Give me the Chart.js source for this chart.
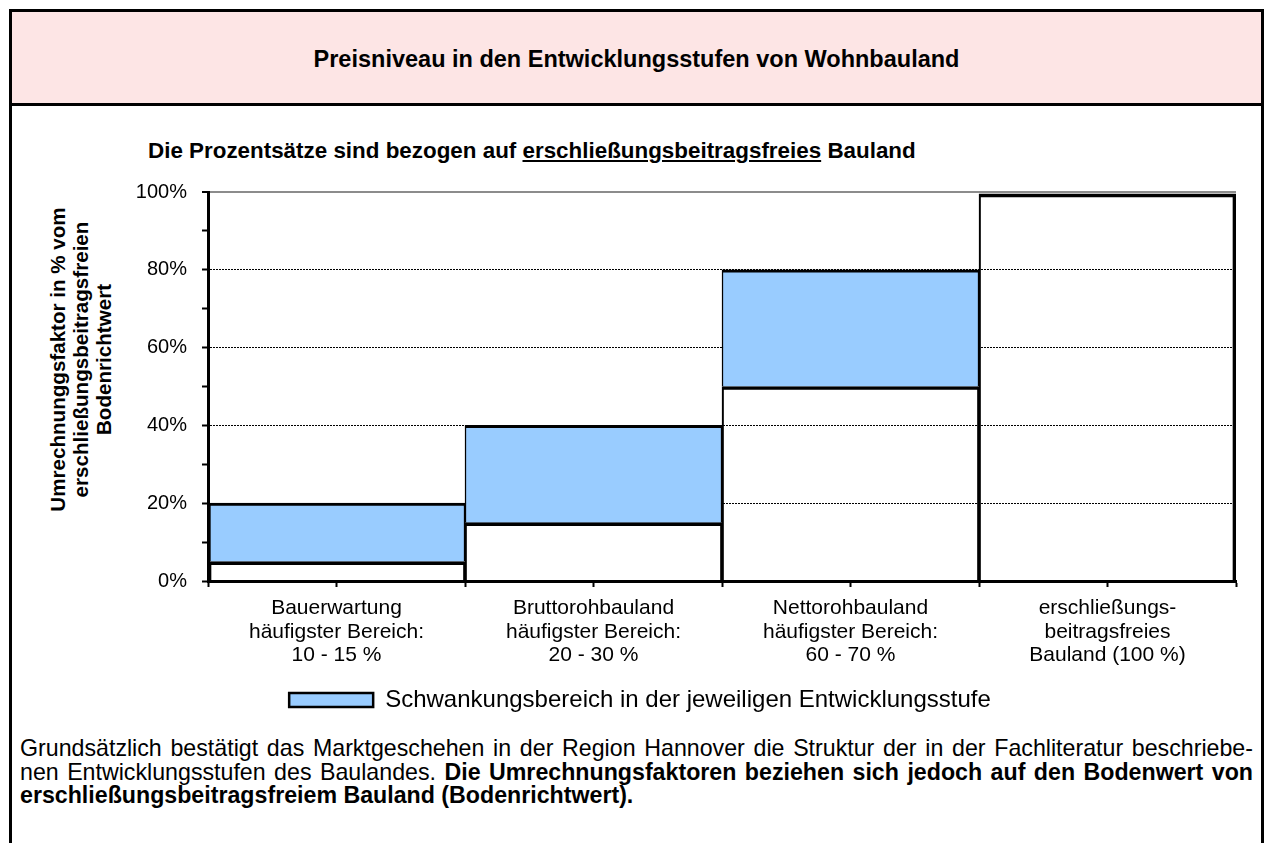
<!DOCTYPE html>
<html lang="de">
<head>
<meta charset="utf-8">
<title>Preisniveau in den Entwicklungsstufen von Wohnbauland</title>
<script src="https://cdn.jsdelivr.net/npm/chart.js@4"></script>
<style>
  html, body { margin: 0; padding: 0; background: #fff; }
  body { width: 1273px; height: 843px; overflow: hidden; position: relative;
         font-family: "Liberation Sans", Arial, sans-serif; color: #000; }
  .rahmen { position: absolute; left: 9px; top: 9px; width: 1255px; height: 900px;
            border: 3px solid #000; box-sizing: border-box; }
  .kopf { position: absolute; left: 12px; top: 12px; width: 1249px; height: 91px;
          background: #fde5e5; border-bottom: 3px solid #000; }
  .titel { position: absolute; left: 12px; width: 1249px; top: 48px; text-align: center;
           font-weight: bold; font-size: 23.5px; line-height: 23.5px; white-space: nowrap; }
  .untertitel { position: absolute; left: 148px; top: 140px; font-weight: bold;
                font-size: 22.4px; line-height: 22.4px; white-space: nowrap; }
  .ytitel { position: absolute; left: -90px; top: 325px; width: 340px; height: 69px;
            font-weight: bold; font-size: 20.6px; line-height: 23px; text-align: center;
            transform: rotate(-90deg); white-space: nowrap; }
  .grafik { position: absolute; left: 44px; top: 170px; width: 1229px; height: 552px; }
  .text { position: absolute; left: 20px; top: 737px; width: 1233px;
          font-size: 23.2px; line-height: 23.5px; }
  .text div { white-space: nowrap; }
  .text .block { text-align: justify; text-align-last: justify; white-space: normal; }
</style>
</head>
<body>
<div class="rahmen"></div>
<div class="kopf"></div>
<div class="titel">Preisniveau in den Entwicklungsstufen von Wohnbauland</div>
<div class="untertitel">Die Prozentsätze sind bezogen auf <u>erschließungsbeitragsfreies</u> Bauland</div>
<div class="ytitel">Umrechnunggsfaktor in % vom<br>erschließungsbeitragsfreien<br>Bodenrichtwert</div>
<div class="grafik"><canvas id="stufen"></canvas></div>
<div class="text">
  <div class="block">Grundsätzlich bestätigt das Marktgeschehen in der Region Hannover die Struktur der in der Fachliteratur beschriebe-</div>
  <div class="block">nen Entwicklungsstufen des Baulandes. <b>Die Umrechnungsfaktoren beziehen sich jedoch auf den Bodenwert von</b></div>
  <div><b>erschließungsbeitragsfreiem Bauland (Bodenrichtwert).</b></div>
</div>
<script>
// Daten
const kategorien = [
    ['Bauerwartung', 'häufigster Bereich:', '10 - 15 %'],
    ['Bruttorohbauland', 'häufigster Bereich:', '20 - 30 %'],
    ['Nettorohbauland', 'häufigster Bereich:', '60 - 70 %'],
    ['erschließungs-', 'beitragsfreies', 'Bauland (100 %)']
];
const untergrenze = [5, 15, 50, 99.5];   // unterer Teil der Säule (ohne Füllung)
const spanne = [15, 25, 30, null];       // Schwankungsbereich (blau)
const yBeschriftung = [0, 20, 40, 60, 80, 100];

const schrift = '"Liberation Sans", Arial, sans-serif';

// Rahmenbreite je Säule, damit benachbarte Kanten nicht doppelt so dick werden
const rand = (ctx) => ({
    top: 3,
    bottom: 0,
    left: ctx.dataIndex === 0 ? 3 : 1.5,
    right: ctx.dataIndex === kategorien.length - 1 ? 3 : 1.5
});

new Chart(document.getElementById('stufen'), {
    type: 'bar',
    data: {
        labels: kategorien,
        datasets: [{
            label: 'Basis',
            data: untergrenze,
            backgroundColor: 'rgba(0,0,0,0)',
            borderColor: '#000',
            borderWidth: rand,
            borderSkipped: 'start',
            barPercentage: 1,
            categoryPercentage: 1
        }, {
            label: 'Schwankungsbereich in der jeweiligen Entwicklungsstufe',
            data: spanne,
            backgroundColor: '#99ccff',
            borderColor: '#000',
            borderWidth: rand,
            borderSkipped: 'start',
            barPercentage: 1,
            categoryPercentage: 1
        }]
    },
    options: {
        responsive: true,
        maintainAspectRatio: false,
        animation: false,
        layout: { padding: { top: 22, right: 37, bottom: 0, left: 0 } },
        plugins: {
            tooltip: { enabled: false },
            legend: {
                position: 'bottom',
                labels: {
                    color: '#000',
                    font: { family: schrift, size: 24 },
                    boxWidth: 84,
                    boxHeight: 14,
                    padding: 10,
                    // nur der blaue Bereich kommt in die Legende
                    generateLabels: (chart) => Chart.defaults.plugins.legend.labels.generateLabels(chart)
                        .filter(item => item.datasetIndex === 1)
                        .map(item => ({ ...item, lineWidth: 2.5, strokeStyle: '#000' }))
                }
            }
        },
        scales: {
            x: {
                stacked: true,
                offset: true,
                weight: 1,
                grid: { offset: true, drawOnChartArea: false, tickLength: 6, tickWidth: 2, tickColor: '#000' },
                border: { color: '#000', width: 3 },
                ticks: {
                    color: '#000',
                    font: { family: schrift, size: 21, lineHeight: 1.11 },
                    padding: 10,
                    maxRotation: 0,
                    autoSkip: false
                },
                afterFit: (scale) => { scale.height = 97; }
            },
            // zweite Achse nur für die Teilstriche in der Säulenmitte
            x2: {
                type: 'category',
                position: 'bottom',
                offset: true,
                weight: 0,
                grid: { offset: false, drawOnChartArea: false, tickLength: 6, tickWidth: 2, tickColor: '#000' },
                border: { display: false },
                ticks: { display: false },
                afterFit: (scale) => { scale.height = 0; }
            },
            y: {
                stacked: true,
                min: 0,
                max: 100,
                grid: {
                    color: (ctx) => {
                        const v = ctx.tick ? ctx.tick.value : 0;
                        if (v === 100) return '#8c8c8c';
                        if (v > 0 && v % 20 === 0) return '#000';
                        return 'rgba(0,0,0,0)';
                    },
                    lineWidth: (ctx) => (ctx.tick && ctx.tick.value === 100 ? 2 : 1),
                    tickLength: 6,
                    tickWidth: 2,
                    tickColor: '#000',
                    tickBorderDash: []
                },
                border: {
                    color: '#000',
                    width: 3,
                    dash: (ctx) => (ctx.tick && ctx.tick.value !== 100 ? [2, 1] : [])
                },
                ticks: {
                    stepSize: 10,
                    color: '#000',
                    font: { family: schrift, size: 20 },
                    padding: 15,
                    callback: (value) => (yBeschriftung.includes(value) ? value + '%' : '')
                },
                afterFit: (scale) => {
                    scale.width = 164;
                    scale.paddingTop = 0;
                    scale.paddingBottom = 0;
                }
            }
        }
    }
});
</script>
</body>
</html>
